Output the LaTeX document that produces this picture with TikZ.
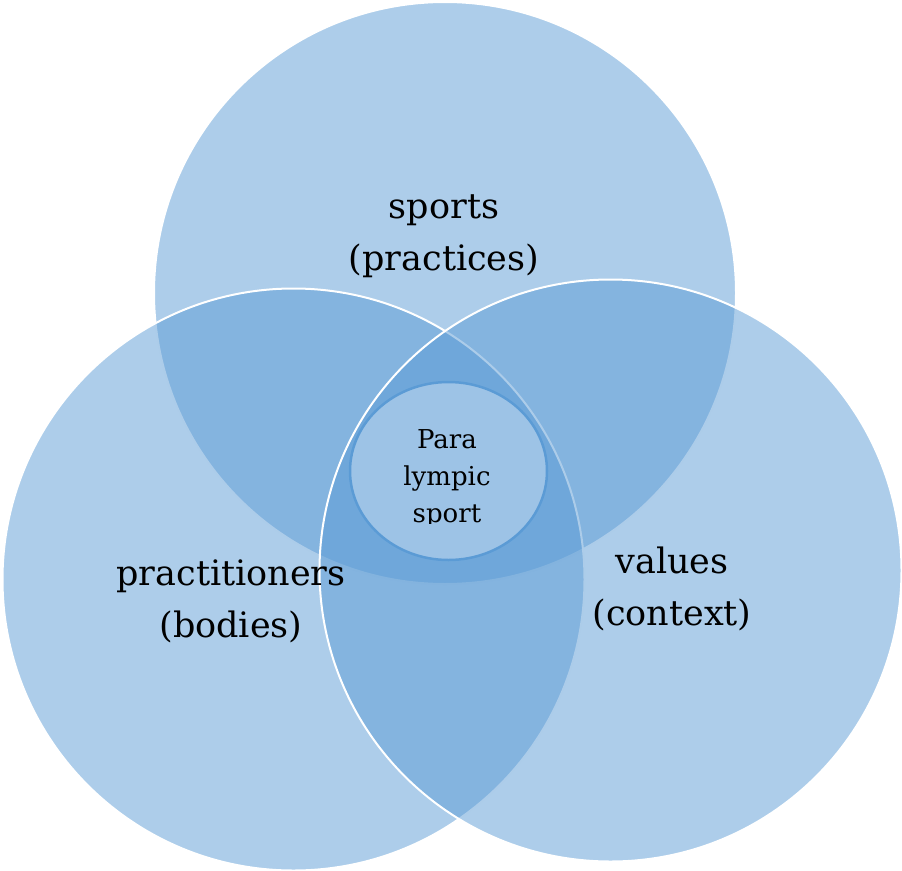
\documentclass[tikz,border=0pt]{standalone}
\usepackage{fontspec}
\setmainfont{DejaVu Serif}
\usetikzlibrary{shapes.geometric}
\begin{document}
\begin{tikzpicture}[x=1pt,y=-1pt]
\definecolor{acc}{HTML}{5B9BD5}
\definecolor{inner}{HTML}{9DC3E6}
\tikzset{
  venn/.style={circle, minimum size=582pt, inner sep=0pt, fill=acc, fill opacity=0.5, draw=white, line width=2pt},
  biglabel/.style={anchor=base, inner sep=0pt, font=\fontsize{35}{52}\selectfont, text=black},
  smalllabel/.style={anchor=base, inner sep=0pt, font=\fontsize{26}{37}\selectfont, text=black},
  centreoval/.style={ellipse, minimum width=197pt, minimum height=178pt, inner sep=0pt, fill=inner, draw=acc, line width=2.5pt}
}
\useasboundingbox (0,0) rectangle (902,870);
\node[venn] (sports) at (445,293) {};
\node[venn] (practitioners) at (293.5,579.5) {};
\node[venn] (values) at (610.5,570.5) {};
\node[centreoval] (para) at (448.5,471) {};
\node[biglabel] (sportsA) at (444,218) {sports};
\node[biglabel] (sportsB) at (444,270) {(practices)};
\node[biglabel] (practA) at (231,585) {practitioners};
\node[biglabel] (practB) at (231,637) {(bodies)};
\node[biglabel] (valA) at (672,573) {values};
\node[biglabel] (valB) at (672,625) {(context)};
\begin{scope}
\clip (300,380) rectangle (600,523.5);
\node[smalllabel] (paraA) at (447,448) {Para};
\node[smalllabel] (paraB) at (447,485) {lympic};
\node[smalllabel] (paraC) at (447,522) {sport};
\end{scope}
\end{tikzpicture}
\end{document}
